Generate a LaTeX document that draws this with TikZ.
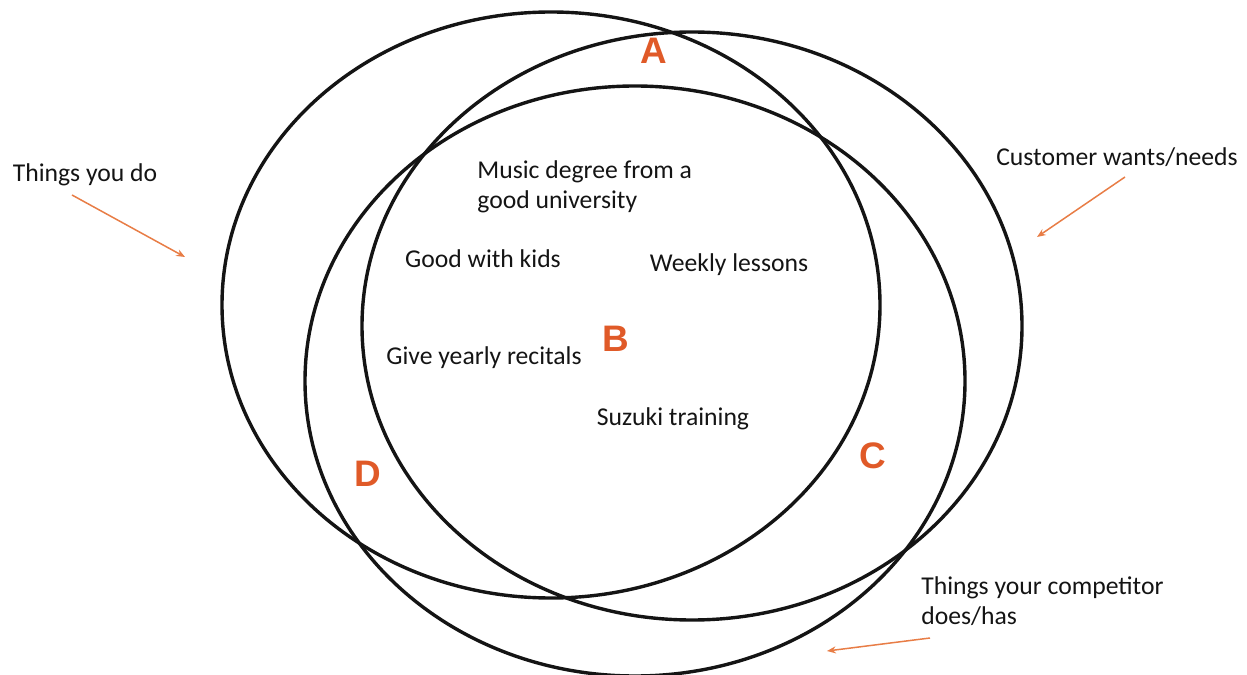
\documentclass[tikz,border=0pt]{standalone}
\usepackage{fontspec}
\setmainfont{Carlito}
\newfontfamily\tagfont{Liberation Sans}
\usetikzlibrary{arrows.meta}

\definecolor{tagred}{RGB}{224,90,40}
\definecolor{pointred}{RGB}{232,125,70}

\begin{document}
\begin{tikzpicture}[x = 0.02cm, y = -0.02cm,
                    set/.style     = {line width=0.068cm, black!92},
                    lbl/.style     = {font=\fontsize{14.6}{17.5}\selectfont, inner sep=0pt, text=black!92},
                    tag/.style     = {font=\tagfont\bfseries\fontsize{21}{21}\selectfont, inner sep=0pt, text=tagred},
                    pointer/.style = {pointred, line width=0.03cm, -{Stealth[length=5pt, width=4pt]}}]

    \useasboundingbox (0,0) rectangle (1247,675);

    % the three sets
    \draw[set] (551,305) ellipse (329 and 293);
    \draw[set] (692,326) ellipse (330 and 294);
    \draw[set] (635,381) ellipse (330 and 295);

    % regions
    \node[tag] (tagA) at (654,51)  {A};
    \node[tag] (tagB) at (616,339) {B};
    \node[tag] (tagC) at (873,456) {C};
    \node[tag] (tagD) at (368,474) {D};

    % contents of B
    \node[lbl, anchor=north west, align=left] (degree) at (477,160) {Music degree from a\\good university};
    \node[lbl] (kids)     at (483,259) {Good with kids};
    \node[lbl] (weekly)   at (729,265) {Weekly lessons};
    \node[lbl] (recitals) at (484,358) {Give yearly recitals};
    \node[lbl] (suzuki)   at (673,419) {Suzuki training};

    % outside labels
    \node[lbl] (you)      at (85,175)    {Things you do};
    \node[lbl] (customer) at (1117,157)  {Customer wants/needs};
    \node[lbl, anchor=north west, align=left] (rival) at (921,576) {Things your competitor\\does/has};

    \coordinate (youFrom)      at (72,195);
    \coordinate (youTip)       at (185,257);
    \coordinate (customerFrom) at (1125,177);
    \coordinate (customerTip)  at (1037,237);
    \coordinate (rivalFrom)    at (930,638);
    \coordinate (rivalTip)     at (827,651);

    \draw[pointer] (youFrom) -- (youTip);
    \draw[pointer] (customerFrom) -- (customerTip);
    \draw[pointer] (rivalFrom) -- (rivalTip);
\end{tikzpicture}
\end{document}
